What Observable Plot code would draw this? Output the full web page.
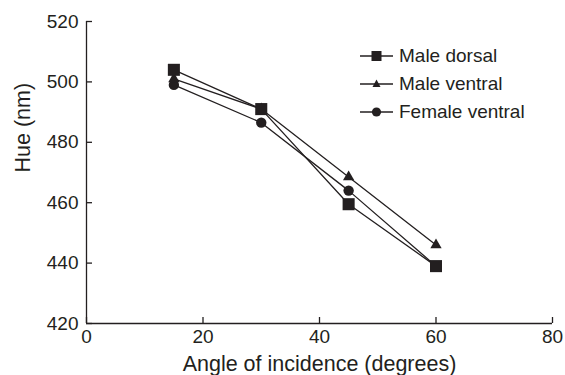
<!DOCTYPE html>
<html>
<head>
<meta charset="utf-8">
<script src="https://cdn.jsdelivr.net/npm/d3@7"></script>
<script src="https://cdn.jsdelivr.net/npm/@observablehq/plot@0.6"></script>
<style>
  html, body { margin: 0; padding: 0; background: #fff; }
  #wrap { position: relative; width: 565px; height: 375px; font-family: "Liberation Sans", Arial, sans-serif; }
  #legend { position: absolute; left: 360px; top: 42px; color: #231f20; font-size: 19px; }
  .row { display: flex; align-items: center; height: 28px; }
  .row svg { margin-right: 6px; }
</style>
</head>
<body>
<div id="wrap"></div>
<script>
const angles = [15, 30, 45, 60];
const seriesNames = ["Male dorsal", "Male ventral", "Female ventral"];
const maleDorsal = [504, 491, 459.5, 439];
const maleVentral = [501, 491, 468.5, 446];
const femaleVentral = [499, 486.5, 464, 439];
const xTicks = [0, 20, 40, 60, 80];
const yTicks = [420, 440, 460, 480, 500, 520];

const seriesValues = [maleDorsal, maleVentral, femaleVentral];
const data = seriesNames.flatMap((s, i) => angles.map((a, j) => ({series: s, angle: a, hue: seriesValues[i][j]})));

const ink = "#231f20";
const W = 565, H = 375, mL = 86, mR = 13, mT = 21, mB = 52;
const fh = H - mT - mB, fw = W - mL - mR;

const chart = Plot.plot({
  width: W, height: H,
  marginLeft: mL, marginRight: mR, marginTop: mT, marginBottom: mB,
  style: {fontFamily: "'Liberation Sans', Arial, sans-serif", color: ink, background: "#fff", overflow: "visible"},
  x: {domain: [0, 80], ticks: xTicks},
  y: {domain: [420, 520], ticks: yTicks},
  marks: [
    Plot.ruleX([0], {stroke: ink, strokeWidth: 1.3}),
    Plot.ruleY([420], {stroke: ink, strokeWidth: 1.3}),
    Plot.tickX(xTicks, {x: d => d, stroke: ink, strokeWidth: 1.3, insetTop: fh - 6}),
    Plot.tickY(yTicks, {y: d => d, stroke: ink, strokeWidth: 1.3, insetRight: fw - 6}),
    Plot.axisX({ticks: xTicks, tickSize: 0, tickPadding: 6, fontSize: 19, label: null}),
    Plot.axisY({ticks: yTicks, tickSize: 0, tickPadding: 8, fontSize: 19, label: null}),
    Plot.text(["Angle of incidence (degrees)"], {text: d => d, frameAnchor: "bottom", dy: 47, fontSize: 21.5, fill: ink}),
    Plot.text(["Hue (nm)"], {text: d => d, frameAnchor: "left", dx: -63, rotate: -90, fontSize: 21.5, fill: ink}),
    Plot.line(data, {x: "angle", y: "hue", z: "series", stroke: ink, strokeWidth: 1.3}),
    Plot.dot(data.filter(d => d.series === seriesNames[2]), {x: "angle", y: "hue", symbol: "circle", r: 5.2, fill: ink}),
    Plot.dot(data.filter(d => d.series === seriesNames[1]), {x: "angle", y: "hue", symbol: "triangle", r: 4.2, fill: ink}),
    Plot.dot(data.filter(d => d.series === seriesNames[0]), {x: "angle", y: "hue", symbol: "square", r: 6.8, fill: ink})
  ]
});

const wrap = document.getElementById("wrap");
wrap.appendChild(chart);

const legend = document.createElement("div");
legend.id = "legend";
const shapes = [
  `<rect x="11.5" y="9" width="10" height="10" fill="${ink}"/>`,
  `<path d="M16.5 9.5 L20.5 17 L12.5 17 Z" fill="${ink}"/>`,
  `<circle cx="16.5" cy="14" r="4.6" fill="${ink}"/>`
];
seriesNames.forEach((name, i) => {
  const row = document.createElement("div");
  row.className = "row";
  row.innerHTML = `<svg width="33" height="28"><line x1="0" x2="33" y1="14" y2="14" stroke="${ink}" stroke-width="1.3"/>${shapes[i]}</svg><span>${name}</span>`;
  legend.appendChild(row);
});
wrap.appendChild(legend);
</script>
</body>
</html>
